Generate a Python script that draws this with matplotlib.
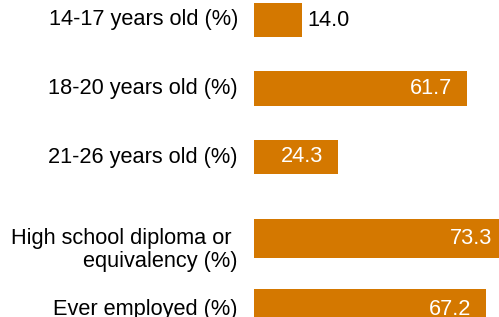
import matplotlib
matplotlib.use('Agg')
import matplotlib.pyplot as plt

# Chart data
labels = ['14-17 years old (%)', '18-20 years old (%)', '21-26 years old (%)',
          'High school diploma or \nequivalency (%)', 'Ever employed (%)']
values = [14.0, 61.7, 24.3, 73.3, 67.2]

# Layout (category slots, with a small gap before the last group)
positions = [0, 1, 2, 3.19, 4.22]
heights = [0.5, 0.51, 0.5, 0.57, 0.584]
label_shift = [0, 0, 0, 0.17, 0]

bar_color = '#D47800'
plt.rcParams['font.family'] = ['Liberation Sans', 'DejaVu Sans']
fs = 15.7

fig = plt.figure(figsize=(4.99, 3.17), dpi=100)
ax = fig.add_axes([254 / 499, 0, 245 / 499, 1])

ax.barh(positions, values, height=heights, color=bar_color, edgecolor='none')
ax.set_xlim(0, 245 / 3.455)
ax.set_ylim(317 / 68.5 - 20 / 68.5, -20 / 68.5)
ax.axis('off')

# category labels on the left
for pos, lab, dy in zip(positions, labels, label_shift):
    ax.annotate(lab, xy=(0, pos + dy), xycoords=('axes fraction', 'data'),
                xytext=(-16, 0), textcoords='offset pixels',
                ha='right', va='center', ma='right', fontsize=fs, color='#000000',
                linespacing=1.15, annotation_clip=False)

# value labels: inside (white) for long bars, outside (black) for short ones
for pos, v in zip(positions, values):
    if v < 20:
        ax.annotate(f'{v:.1f}', xy=(v, pos), xytext=(5, 0), textcoords='offset pixels',
                    ha='left', va='center', fontsize=fs, color='black')
    else:
        ax.annotate(f'{v:.1f}', xy=(v, pos), xytext=(-15, 0), textcoords='offset pixels',
                    ha='right', va='center', fontsize=fs, color='white',
                    annotation_clip=False)

fig.savefig('out.png', dpi=100)
